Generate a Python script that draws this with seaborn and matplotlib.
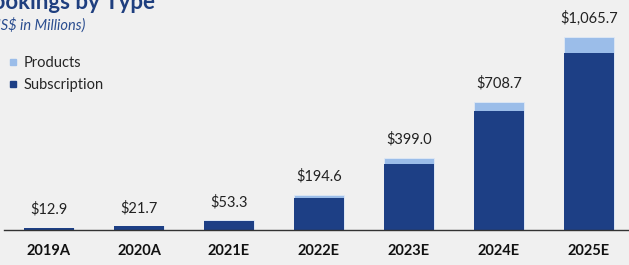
import numpy as np
import pandas as pd
import seaborn as sns
import matplotlib.pyplot as plt
from matplotlib.lines import Line2D

years = ["2019A", "2020A", "2021E", "2022E", "2023E", "2024E", "2025E"]
subscription = [12.5, 21.0, 50.0, 177.0, 366.0, 657.0, 977.0]
products = [0.4, 0.7, 3.3, 17.6, 33.0, 51.7, 88.7]
totals = [12.9, 21.7, 53.3, 194.6, 399.0, 708.7, 1065.7]
labels = ["$12.9", "$21.7", "$53.3", "$194.6", "$399.0", "$708.7", "$1,065.7"]

dark = "#1d3f85"
light = "#9bbde9"
bg = "#f0f0f0"

sns.set_style("white")
plt.rcParams["font.family"] = ["Lato", "DejaVu Sans"]

df = pd.DataFrame({"year": years, "sub": subscription, "total": totals})

fig = plt.figure(figsize=(6.29, 2.65), dpi=100, facecolor=bg)
ax = fig.add_axes([4 / 629, 35 / 265, 630 / 629, 230 / 265])
ax.set_facecolor(bg)

sns.barplot(data=df, x="year", y="total", color=light, width=0.56,
            saturation=1, edgecolor="#dfe8f5", linewidth=0.6, ax=ax)
sns.barplot(data=df, x="year", y="sub", color=dark, width=0.56,
            saturation=1, linewidth=0, ax=ax)

for i, (t, lab) in enumerate(zip(totals, labels)):
    ax.annotate(lab, (i, t), xytext=(0, 10), textcoords="offset points",
                ha="center", va="baseline", fontsize=10.5, color="#222222")

ax.set_xlim(-0.5, 6.5)
ax.set_ylim(0, 1270)
ax.set_xlabel("")
ax.set_ylabel("")
ax.set_yticks([])
for s in ["top", "right", "left"]:
    ax.spines[s].set_visible(False)
ax.spines["bottom"].set_color("#333333")
ax.spines["bottom"].set_linewidth(1.0)

ax.set_xticks(np.arange(-0.5, 6.5, 1.0), minor=True)
ax.tick_params(axis="x", which="minor", length=4, width=1, color="#333333", direction="out")
ax.tick_params(axis="x", which="major", length=0, pad=10)
for lbl in ax.get_xticklabels():
    lbl.set_fontweight("bold")
    lbl.set_fontsize(10.5)
    lbl.set_color("#111111")

fig.text(-0.035, 1 - 9 / 265, "Bookings by Type", fontsize=16, fontweight="bold",
         color="#1f3f7f", va="baseline", ha="left")
fig.text(-0.02, 1 - 30 / 265, "(US$ in Millions)", fontsize=10.5, style="italic",
         color="#2a4d8f", va="baseline", ha="left")

handles = [Line2D([], [], marker="s", linestyle="", color=light, markersize=5),
           Line2D([], [], marker="s", linestyle="", color=dark, markersize=5)]
fig.legend(handles, ["Products", "Subscription"], loc="upper left",
           bbox_to_anchor=(0.0, 0.81), frameon=False, fontsize=10.5,
           handletextpad=0.2, labelspacing=0.55, borderaxespad=0, handlelength=1)

fig.savefig("out.png", dpi=100, facecolor=bg)
